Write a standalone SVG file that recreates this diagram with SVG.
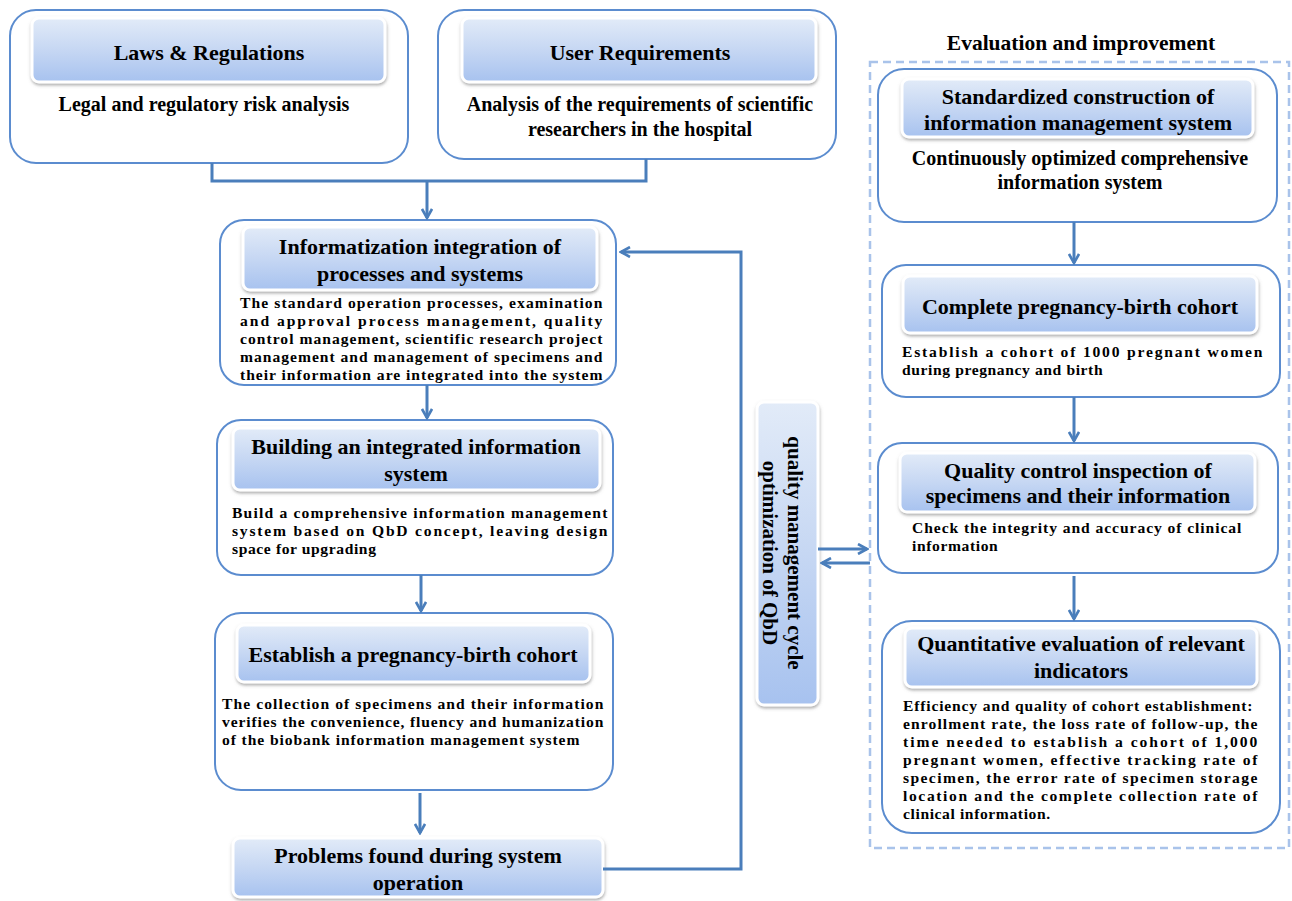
<svg xmlns="http://www.w3.org/2000/svg" width="1292" height="901" viewBox="0 0 1292 901">
<defs>
<linearGradient id="hg" x1="0" y1="0" x2="0" y2="1">
<stop offset="0" stop-color="#e2ebf8"/>
<stop offset="0.5" stop-color="#c6d7f3"/>
<stop offset="1" stop-color="#a7c2ef"/>
</linearGradient>
<filter id="sh" x="-10%" y="-20%" width="120%" height="150%">
<feDropShadow dx="0.5" dy="2" stdDeviation="1.6" flood-color="#6f6f6f" flood-opacity="0.55"/>
</filter>
<marker id="ah" viewBox="0 0 12 12" refX="10" refY="6" markerWidth="12" markerHeight="12" markerUnits="userSpaceOnUse" orient="auto">
<path d="M1,1 L10,6 L1,11" fill="none" stroke="#4a7ebb" stroke-width="2.6" stroke-linejoin="miter"/>
</marker>
<style>
.ob{fill:#fff;stroke:#5b8ccf;stroke-width:2}
.hd{fill:url(#hg);stroke:#fff;stroke-width:3;filter:url(#sh)}
.ht{font-family:"Liberation Serif","Times New Roman",serif;font-weight:bold;font-size:22px;fill:#000;text-anchor:middle}
.bt{font-family:"Liberation Serif","Times New Roman",serif;font-weight:bold;font-size:15.6px;letter-spacing:0.6px;fill:#000}
.bm{font-family:"Liberation Serif","Times New Roman",serif;font-weight:bold;font-size:20px;fill:#000;text-anchor:middle}
.cn{fill:none;stroke:#4a7ebb;stroke-width:3}
</style>
</defs>

<rect id="container" x="870" y="62" width="419" height="786" fill="none" stroke="#a9c3ea" stroke-width="2.5" stroke-dasharray="8 5"/>
<text class="ht" x="1081" y="50" style="font-size:21.5px">Evaluation and improvement</text>

<g id="laws">
<rect class="ob" x="10" y="10" width="398" height="153" rx="26"/>
<rect class="hd" x="32" y="18" width="353" height="64" rx="7"/>
<text class="ht" x="209" y="60">Laws &amp; Regulations</text>
<text class="bm" x="204" y="111">Legal and regulatory risk analysis</text>
</g>

<g id="user">
<rect class="ob" x="438" y="10" width="398" height="149" rx="26"/>
<rect class="hd" x="462" y="18" width="354" height="64" rx="7"/>
<text class="ht" x="640" y="60">User Requirements</text>
<text class="bm" x="640" y="111">Analysis of the requirements of  scientific</text>
<text class="bm" x="640" y="136">researchers in the hospital</text>
</g>

<g id="integration">
<rect class="ob" x="220" y="220" width="396" height="165" rx="24"/>
<rect class="hd" x="243" y="227" width="354" height="63" rx="7"/>
<text class="ht" x="420" y="254">Informatization integration of</text>
<text class="ht" x="420" y="281">processes and systems</text>
<text class="bt" x="240" y="308" textLength="363" lengthAdjust="spacing">The standard operation processes, examination</text>
<text class="bt" x="240" y="326" textLength="363" lengthAdjust="spacing">and approval process management, quality</text>
<text class="bt" x="240" y="344" textLength="363" lengthAdjust="spacing">control management, scientific research project</text>
<text class="bt" x="240" y="362" textLength="363" lengthAdjust="spacing">management and management of specimens and</text>
<text class="bt" x="240" y="380" textLength="363" lengthAdjust="spacing">their information are integrated into the system</text>
</g>

<g id="building">
<rect class="ob" x="217" y="420" width="396" height="155" rx="24"/>
<rect class="hd" x="233" y="428" width="367" height="62" rx="7"/>
<text class="ht" x="416" y="454">Building an integrated information</text>
<text class="ht" x="416" y="481">system</text>
<text class="bt" x="232" y="518" textLength="376" lengthAdjust="spacing">Build a comprehensive information management</text>
<text class="bt" x="232" y="536" textLength="376" lengthAdjust="spacing">system based on QbD concept, leaving design</text>
<text class="bt" x="232" y="554">space for upgrading</text>
</g>

<g id="establish">
<rect class="ob" x="215" y="613" width="398" height="177" rx="26"/>
<rect class="hd" x="237" y="625" width="353" height="57" rx="7"/>
<text class="ht" x="413" y="662">Establish a pregnancy-birth cohort</text>
<text class="bt" x="222" y="709" textLength="382" lengthAdjust="spacing">The collection of specimens and their information</text>
<text class="bt" x="222" y="727" textLength="382" lengthAdjust="spacing">verifies the convenience, fluency and humanization</text>
<text class="bt" x="222" y="745" textLength="358" lengthAdjust="spacing">of the biobank information management system</text>
</g>

<g id="problems">
<rect class="hd" x="233" y="838" width="370" height="59" rx="7"/>
<text class="ht" x="418" y="863">Problems found during system</text>
<text class="ht" x="418" y="890">operation</text>
</g>

<g id="qbd">
<rect class="hd" x="757" y="402" width="61" height="303" rx="7"/>
<text class="ht" transform="translate(788,553) rotate(90)" style="font-size:21px">quality management cycle</text>
<text class="ht" transform="translate(763,553) rotate(90)" style="font-size:21px">optimization of QbD</text>
</g>

<g id="standardized">
<rect class="ob" x="878" y="69" width="399" height="153" rx="26"/>
<rect class="hd" x="902" y="79" width="351" height="58" rx="7"/>
<text class="ht" x="1078" y="104">Standardized construction of</text>
<text class="ht" x="1078" y="130">information management system</text>
<text class="bm" x="1080" y="165">Continuously optimized comprehensive</text>
<text class="bm" x="1080" y="189">information system</text>
</g>

<g id="complete">
<rect class="ob" x="882" y="265" width="398" height="132" rx="24"/>
<rect class="hd" x="903" y="276" width="354" height="57" rx="7"/>
<text class="ht" x="1080" y="314">Complete pregnancy-birth cohort</text>
<text class="bt" x="902" y="357" textLength="361" lengthAdjust="spacing">Establish a cohort of 1000 pregnant women</text>
<text class="bt" x="902" y="375">during pregnancy and birth</text>
</g>

<g id="qc">
<rect class="ob" x="878" y="443" width="400" height="130" rx="24"/>
<rect class="hd" x="900" y="453" width="355" height="59" rx="7"/>
<text class="ht" x="1078" y="478">Quality control inspection of</text>
<text class="ht" x="1078" y="503">specimens and their information</text>
<text class="bt" x="912" y="533" textLength="330" lengthAdjust="spacing">Check the integrity  and accuracy of clinical</text>
<text class="bt" x="912" y="551">information</text>
</g>

<g id="quantitative">
<rect class="ob" x="882" y="621" width="398" height="212" rx="30"/>
<rect class="hd" x="905" y="628" width="352" height="59" rx="7"/>
<text class="ht" x="1081" y="651">Quantitative evaluation of relevant</text>
<text class="ht" x="1081" y="678">indicators</text>
<text class="bt" x="903" y="711" textLength="350" lengthAdjust="spacing">Efficiency and quality of cohort establishment:</text>
<text class="bt" x="903" y="729" textLength="355" lengthAdjust="spacing">enrollment rate, the loss rate of follow-up, the</text>
<text class="bt" x="903" y="747" textLength="355" lengthAdjust="spacing">time needed to establish a cohort of 1,000</text>
<text class="bt" x="903" y="765" textLength="355" lengthAdjust="spacing">pregnant women, effective tracking rate of</text>
<text class="bt" x="903" y="783" textLength="355" lengthAdjust="spacing">specimen, the error rate of specimen storage</text>
<text class="bt" x="903" y="801" textLength="355" lengthAdjust="spacing">location and the complete collection rate of</text>
<text class="bt" x="903" y="819">clinical information.</text>
</g>

<g id="connectors">
<path class="cn" d="M212,163 V181 H646 V159"/>
<path class="cn" d="M427,181 V218" marker-end="url(#ah)"/>
<path class="cn" d="M427,385 V418" marker-end="url(#ah)"/>
<path class="cn" d="M421,575 V611" marker-end="url(#ah)"/>
<path class="cn" d="M420,793 V833" marker-end="url(#ah)"/>
<path class="cn" d="M603,869 H741 V252 H621" marker-end="url(#ah)"/>
<path class="cn" d="M818,549 H867" marker-end="url(#ah)"/>
<path class="cn" d="M870,563 H822" marker-end="url(#ah)"/>
<path class="cn" d="M1074,222 V263" marker-end="url(#ah)"/>
<path class="cn" d="M1074,397 V441" marker-end="url(#ah)"/>
<path class="cn" d="M1074,576 V619" marker-end="url(#ah)"/>
</g>
</svg>
